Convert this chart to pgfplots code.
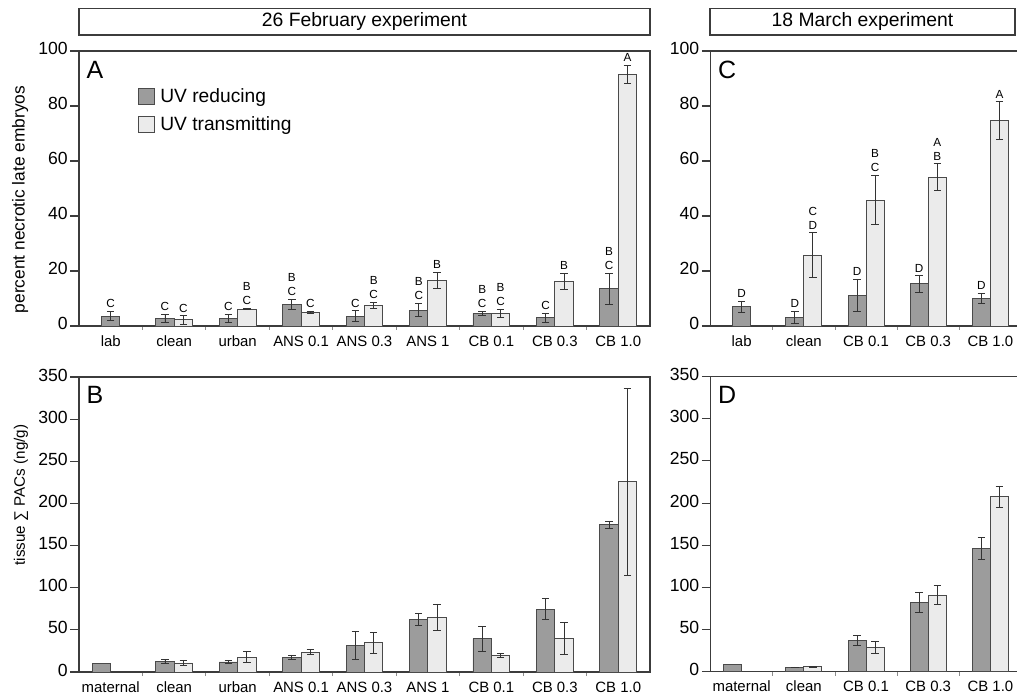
\documentclass[border=0pt]{standalone}
\usepackage{fontspec}
\setmainfont{Liberation Sans}
\usepackage{pgfplots}
\pgfplotsset{compat=1.18}
\definecolor{redfill}{HTML}{9C9C9C}
\definecolor{trafill}{HTML}{EBEBEB}
\definecolor{barline}{HTML}{4A4A4A}
\definecolor{axline}{HTML}{3C3C3C}
\newcommand{\tickfont}{\fontsize{13.2}{15}\selectfont}
\newcommand{\catfont}{\fontsize{11.2}{13}\selectfont}
\newcommand{\sigfont}{\fontsize{8.8}{10.5}\selectfont}
\newcommand{\panelfont}{\fontsize{18.75}{22}\selectfont}
\newcommand{\titlefont}{\fontsize{14.5}{17}\selectfont}
\newcommand{\sig}[3]{\node[anchor=south, inner sep=0pt, yshift=2.5pt, align=center, font=\sigfont] at (axis cs:#1,#2) {#3};}
\pgfplotsset{
  panel/.style={
    scale only axis,
    ybar,
    bar width=0.29,
    axis line style={axline, line width=0.9pt},
    tick align=outside,
    ytick pos=left,
    xtick pos=bottom,
    major x tick style={draw=none},
    minor x tick style={draw=black!45, line width=0.6pt},
    minor tick length=3pt,
    major y tick style={axline, line width=0.8pt},
    major tick length=6.5pt,
    tick label style={/pgf/number format/assume math mode=true},
    yticklabel style={font=\tickfont, xshift=1.5pt},
    xticklabel style={font=\catfont, yshift=4pt},
    typeset ticklabels with strut,
    ymin=0,
    clip=false,
    error bars/y dir=both,
    error bars/y explicit,
    error bars/error bar style={line width=0.6pt, black!80},
    error bars/error mark options={rotate=90, line width=0.6pt, black!80, mark size=2.8pt},
  },
  red/.style={fill=redfill, draw=barline, line width=0.7pt},
  tra/.style={fill=trafill, draw=barline, line width=0.7pt},
}
\begin{document}
\begin{tikzpicture}
\useasboundingbox (0pt,0pt) rectangle (762.75pt,522.75pt);
% Title boxes
\draw[axline, line width=0.9pt] (59.25pt,496.5pt) rectangle (487.5pt,516.2pt);
\node[font=\titlefont] at (273.4pt,506.35pt) {26 February experiment};
\draw[axline, line width=0.9pt] (532.5pt,496.5pt) rectangle (761.25pt,516.2pt);
\node[font=\titlefont] at (646.9pt,506.35pt) {18 March experiment};

% ---------------- Panel A ----------------
\begin{axis}[panel,
  at={(59.25pt,278.25pt)}, anchor=south west,
  width=428.25pt, height=206.25pt,
  xmin=-0.5, xmax=8.5, ymax=100,
  ytick={0,20,...,100},
  xtick={0,...,8},
  minor xtick={0.5,1.5,...,7.5},
  xticklabels={lab,clean,urban,ANS 0.1,ANS 0.3,ANS 1,CB 0.1,CB 0.3,CB 1.0},
  ylabel={percent necrotic late embryos},
  ylabel style={at={(axis description cs:0,0.46)}, anchor=south, inner sep=0pt, yshift=37.9pt, font=\fontsize{13}{15}\selectfont},
  legend style={at={(axis description cs:0.103,0.874)}, anchor=north west, draw=none, fill=none, font=\fontsize{14.4}{17}\selectfont, row sep=5pt, inner sep=0pt},
  legend cell align=left,
  legend image code/.code={\draw[#1] (0pt,-5.8pt) rectangle (11.6pt,5.8pt); \path (14pt,0pt);},
]
\addplot[red, bar shift=-0.145] table[x=x, y=y, y error=e] {
x y e
1 2.7 1.5
2 2.7 1.5
3 7.9 1.9
4 3.6 1.9
5 5.8 2.4
6 4.6 0.8
7 3.0 1.7
8 13.6 5.6
};
\addlegendentry{UV reducing}
\addplot[tra, bar shift=0.145] table[x=x, y=y, y error=e] {
x y e
1 2.2 1.5
2 6.1 0.2
3 5.0 0.4
4 7.5 1.0
5 16.5 3.0
6 4.6 1.5
7 16.2 2.9
8 91.5 3.3
};
\addlegendentry{UV transmitting}
\addplot[red, bar shift=0, forget plot] table[x=x, y=y, y error=e] {
x y e
0 3.6 1.7
};
\sig{0}{5.3}{C}
\sig{0.855}{4.2}{C}
\sig{1.145}{3.7}{C}
\sig{1.855}{4.2}{C}
\sig{2.145}{6.3}{B\\C}
\sig{2.855}{9.8}{B\\C}
\sig{3.145}{5.4}{C}
\sig{3.855}{5.5}{C}
\sig{4.145}{8.5}{B\\C}
\sig{4.855}{8.2}{B\\C}
\sig{5.145}{19.5}{B}
\sig{5.855}{5.4}{B\\C}
\sig{6.145}{6.1}{B\\C}
\sig{6.855}{4.7}{C}
\sig{7.145}{19.1}{B}
\sig{7.855}{19.2}{B\\C}
\sig{8.145}{94.8}{A}
\node[anchor=base west, inner sep=0pt, font=\panelfont, xshift=5.5pt, yshift=-20.5pt] at (rel axis cs:0,1) {A};
\end{axis}

% ---------------- Panel B ----------------
\begin{axis}[panel,
  at={(59.25pt,18.75pt)}, anchor=south west,
  width=428.25pt, height=221.25pt,
  xmin=-0.5, xmax=8.5, ymax=350,
  ytick={0,50,...,350},
  xtick={0,...,8},
  minor xtick={0.5,1.5,...,7.5},
  xticklabels={maternal,clean,urban,ANS 0.1,ANS 0.3,ANS 1,CB 0.1,CB 0.3,CB 1.0},
  ylabel={tissue ∑ PACs (ng/g)},
  ylabel style={at={(axis description cs:0,0.6)}, anchor=south, inner sep=0pt, yshift=37.9pt, font=\fontsize{11.4}{14}\selectfont},
]
\addplot[red, bar shift=-0.145] table[x=x, y=y, y error=e] {
x y e
1 12.7 2.0
2 11.9 2.0
3 17.8 2.4
4 31.6 16.2
5 62.8 7.3
6 39.5 14.6
7 74.6 12.4
8 174.9 4.3
};
\addplot[tra, bar shift=0.145] table[x=x, y=y, y error=e] {
x y e
1 10.7 3.4
2 17.8 6.3
3 23.7 3.4
4 34.8 12.6
5 64.8 16.0
6 19.8 2.0
7 39.5 18.8
8 225.5 111.0
};
\addplot[red, bar shift=-0.145, forget plot] table[x=x, y=y] {
x y
0 10.0
};
\node[anchor=base west, inner sep=0pt, font=\panelfont, xshift=5.5pt, yshift=-20pt] at (rel axis cs:0,1) {B};
\end{axis}

% ---------------- Panel C ----------------
\begin{axis}[panel,
  at={(532.9pt,278.25pt)}, anchor=south west,
  width=233.25pt, height=206.25pt,
  xmin=-0.5, xmax=4.5, ymax=100,
  ytick={0,20,...,100},
  xtick={0,...,4},
  minor xtick={0.5,1.5,...,3.5},
  xticklabels={lab,clean,CB 0.1,CB 0.3,CB 1.0},
]
\addplot[red, bar shift=-0.145] table[x=x, y=y, y error=e] {
x y e
1 3.2 2.1
2 11.2 5.9
3 15.3 3.0
4 10.1 1.8
};
\addplot[tra, bar shift=0.145] table[x=x, y=y, y error=e] {
x y e
1 25.8 8.1
2 45.8 9.0
3 54.1 4.9
4 74.7 6.8
};
\addplot[red, bar shift=0, forget plot] table[x=x, y=y, y error=e] {
x y e
0 7.0 2.1
};
\sig{0}{9.1}{D}
\sig{0.855}{5.3}{D}
\sig{1.145}{33.9}{C\\D}
\sig{1.855}{17.1}{D}
\sig{2.145}{54.8}{B\\C}
\sig{2.855}{18.3}{D}
\sig{3.145}{59.0}{A\\B}
\sig{3.855}{11.9}{D}
\sig{4.145}{81.5}{A}
\node[anchor=base west, inner sep=0pt, font=\panelfont, xshift=5.5pt, yshift=-20.5pt] at (rel axis cs:0,1) {C};
\end{axis}

% ---------------- Panel D ----------------
\begin{axis}[panel,
  at={(532.9pt,19pt)}, anchor=south west,
  width=233.25pt, height=221.25pt,
  xmin=-0.5, xmax=4.5, ymax=350,
  ytick={0,50,...,350},
  xtick={0,...,4},
  minor xtick={0.5,1.5,...,3.5},
  xticklabels={maternal,clean,CB 0.1,CB 0.3,CB 1.0},
]
\addplot[red, bar shift=-0.145] table[x=x, y=y, y error=e] {
x y e
1 5.1 0.5
2 36.7 5.9
3 82.1 11.4
4 146.5 12.8
};
\addplot[tra, bar shift=0.145] table[x=x, y=y, y error=e] {
x y e
1 5.9 0.5
2 28.8 6.9
3 90.8 11.4
4 207.6 12.8
};
\addplot[red, bar shift=-0.145, forget plot] table[x=x, y=y] {
x y
0 8.3
};
\node[anchor=base west, inner sep=0pt, font=\panelfont, xshift=5.5pt, yshift=-20pt] at (rel axis cs:0,1) {D};
\end{axis}
\end{tikzpicture}
\end{document}
